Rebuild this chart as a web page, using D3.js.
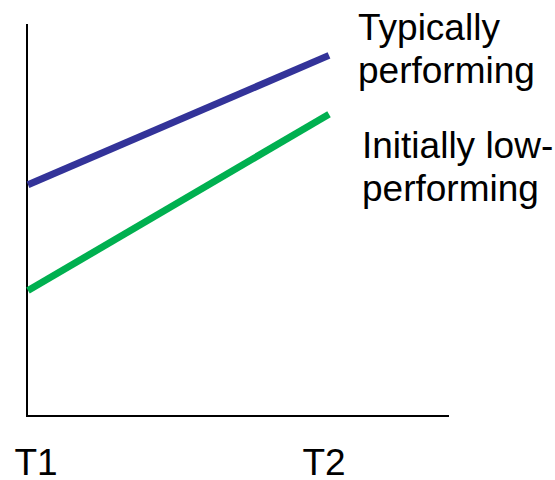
<!DOCTYPE html>
<html><head>
<meta charset="utf-8">
<script src="https://cdn.jsdelivr.net/npm/d3@7/dist/d3.min.js"></script>
<style>
  body { margin: 0; background: #fff; }
  svg text { font-family: "Liberation Sans", Arial, sans-serif; font-size: 37px; fill: #000; }
  .axis-line { stroke: #000; stroke-width: 2; }
</style>
</head>
<body>
<svg width="555" height="480"></svg>
<script>
// data
var times = ["T1", "T2"]
var typical = [59, 92]
var lowStart = [32, 77]
var seriesNames = [["Typically", "performing"], ["Initially low-", "performing"]]
var seriesColors = ["#333399", "#00b050"]

var svg = d3.select("svg")

var x = d3.scalePoint().domain(times).range([28, 329])
var y = d3.scaleLinear().domain([0, 100]).range([416, 24])

// axes (plain lines, no ticks)
svg.append("line").classed("axis-line", true)
  .attr("x1", x("T1") - 1).attr("x2", x("T1") - 1)
  .attr("y1", y(100)).attr("y2", y(0))
svg.append("line").classed("axis-line", true)
  .attr("x1", x("T1") - 2).attr("x2", 449)
  .attr("y1", y(0)).attr("y2", y(0))

// time labels
svg.selectAll(".tlabel").data(times).enter().append("text")
  .attr("class", "tlabel")
  .attr("text-anchor", "middle")
  .attr("x", function(d, i) { return x(d) + (i == 0 ? 8 : -5) })
  .attr("y", 475)
  .text(function(d) { return d })

var series = [typical, lowStart]
var line = d3.line()
  .x(function(d, i) { return x(times[i]) })
  .y(function(d) { return y(d) })

series.forEach(function(vals, k) {
  svg.append("path")
    .attr("d", line(vals))
    .attr("fill", "none")
    .attr("stroke", seriesColors[k])
    .attr("stroke-width", 7)

  // label near the right end of each line
  var ex = x(times[1]), ey = y(vals[1])
  var lx = k == 0 ? ex + 29 : ex + 33
  var ly = k == 0 ? ey - 15 : ey + 44
  var t = svg.append("text").attr("x", lx).attr("y", ly)
  seriesNames[k].forEach(function(s, j) {
    t.append("tspan").attr("x", lx).attr("y", ly + j * 43).text(s)
  })
})
</script>
</body>
</html>
